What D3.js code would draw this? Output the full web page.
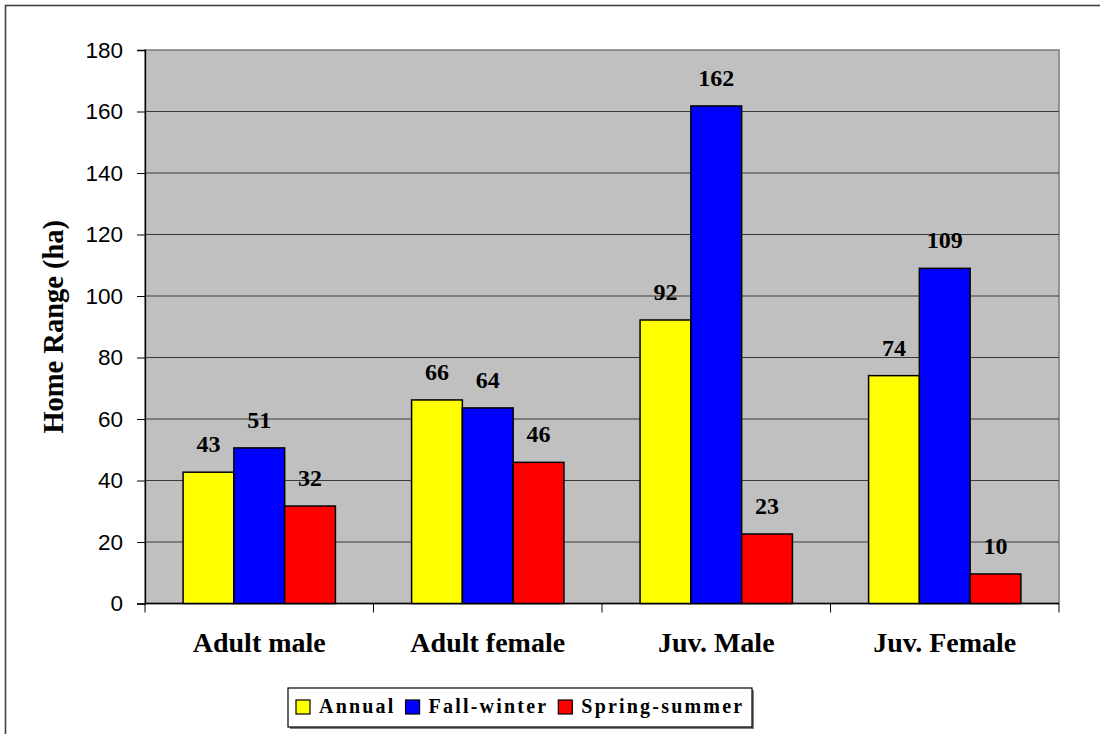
<!DOCTYPE html>
<html>
<head>
<meta charset="utf-8">
<script src="https://cdn.jsdelivr.net/npm/d3@7"></script>
<style>
  body { margin: 0; background: #fff; }
  svg { display: block; }
</style>
</head>
<body>
<div class="canvas"></div>
<script>
const categories = ["Adult male", "Adult female", "Juv. Male", "Juv. Female"];
const seriesNames = ["Annual", "Fall-winter", "Spring-summer"];
const annual = [42.7, 66.2, 92.2, 74.1];
const fallWinter = [50.6, 63.6, 161.8, 109.0];
const springSummer = [31.7, 45.9, 22.6, 9.6];
const yTicks = [0, 20, 40, 60, 80, 100, 120, 140, 160, 180];

const seriesValues = [annual, fallWinter, springSummer];
const colours = ["#ffff00", "#0000ff", "#ff0000"];

const dims = { width: 1100, height: 734 };
const plot = { left: 145, right: 1059, top: 50, bottom: 603.5 };
const serif = "'Liberation Serif', 'Times New Roman', serif";

const svg = d3
  .select(".canvas")
  .append("svg")
  .attr("width", dims.width)
  .attr("height", dims.height);

// outer chart border (runs off the right/bottom edge like the source)
svg.append("rect")
  .attr("x", 5.5).attr("y", 5.5)
  .attr("width", 1300).attr("height", 1000)
  .attr("fill", "#fff")
  .attr("stroke", "#404040")
  .attr("stroke-width", 1.6);

// scales
const x0 = d3.scaleBand()
  .domain(categories)
  .range([plot.left, plot.right])
  .paddingInner(1 / 3)
  .paddingOuter(1 / 6);

const x1 = d3.scaleBand()
  .domain(seriesNames)
  .range([0, x0.bandwidth()]);

const y = d3.scaleLinear()
  .domain([0, 180])
  .range([plot.bottom, plot.top]);

const colour = d3.scaleOrdinal().domain(seriesNames).range(colours);

// plot area
svg.append("rect")
  .attr("x", plot.left).attr("y", plot.top)
  .attr("width", plot.right - plot.left)
  .attr("height", plot.bottom - plot.top)
  .attr("fill", "#c0c0c0")
  .attr("stroke", "#808080")
  .attr("stroke-width", 1.6);

// gridlines
svg.append("g")
  .selectAll("line")
  .data(yTicks.filter((d) => d > 0 && d < 180))
  .enter()
  .append("line")
  .attr("x1", plot.left).attr("x2", plot.right)
  .attr("y1", (d) => y(d)).attr("y2", (d) => y(d))
  .attr("stroke", "#3a3a3a")
  .attr("stroke-width", 1);

// y axis
const yAxis = d3.axisLeft(y).tickValues(yTicks).tickSize(8).tickPadding(14);
const yAxisG = svg.append("g")
  .attr("transform", `translate(${plot.left},0)`)
  .call(yAxis);
yAxisG.select(".domain").attr("stroke", "#000").attr("stroke-width", 1.3);
yAxisG.selectAll(".tick line").attr("stroke", "#000");
yAxisG.selectAll(".tick text")
  .attr("font-family", "'Liberation Sans', Arial, sans-serif")
  .attr("font-size", 22.5)
  .attr("fill", "#000");

// x axis: ticks between categories
const xAxisG = svg.append("g").attr("transform", `translate(0,${plot.bottom})`);
xAxisG.append("line")
  .attr("x1", plot.left).attr("x2", plot.right)
  .attr("stroke", "#000").attr("stroke-width", 1.3);
const bounds = categories.map((c) => x0(c) - x0.step() * x0.paddingOuter());
bounds.push(plot.right);
xAxisG.selectAll(".sep")
  .data(bounds)
  .enter()
  .append("line")
  .attr("class", "sep")
  .attr("x1", (d) => d).attr("x2", (d) => d)
  .attr("y1", 0).attr("y2", 9)
  .attr("stroke", "#000");

xAxisG.selectAll(".cat")
  .data(categories)
  .enter()
  .append("text")
  .attr("class", "cat")
  .attr("x", (d) => x0(d) + x0.bandwidth() / 2)
  .attr("y", 48)
  .attr("text-anchor", "middle")
  .attr("font-family", serif)
  .attr("font-weight", "bold")
  .attr("font-size", 28)
  .text((d) => d);

// y axis title
svg.append("text")
  .attr("transform", `translate(63,${(plot.top + plot.bottom) / 2}) rotate(-90)`)
  .attr("text-anchor", "middle")
  .attr("font-family", serif)
  .attr("font-weight", "bold")
  .attr("font-size", 28.5)
  .text("Home Range (ha)");

// bars
const rows = categories.flatMap((cat, i) =>
  seriesNames.map((s, j) => ({ cat, series: s, value: seriesValues[j][i] }))
);

const groups = svg.append("g");
groups.selectAll("rect")
  .data(rows)
  .enter()
  .append("rect")
  .attr("x", (d) => x0(d.cat) + x1(d.series))
  .attr("y", (d) => y(d.value))
  .attr("width", x1.bandwidth())
  .attr("height", (d) => y(0) - y(d.value))
  .attr("fill", (d) => colour(d.series))
  .attr("stroke", "#000")
  .attr("stroke-width", 1.5);

// value labels
groups.selectAll("text")
  .data(rows)
  .enter()
  .append("text")
  .attr("x", (d) => x0(d.cat) + x1(d.series) + x1.bandwidth() / 2)
  .attr("y", (d) => y(d.value) - 20)
  .attr("text-anchor", "middle")
  .attr("font-family", serif)
  .attr("font-weight", "bold")
  .attr("font-size", 24)
  .text((d) => d3.format(".0f")(d.value));

// legend
const legendBox = { x: 288, y: 688, w: 464, h: 39 };
const legendGroup = svg.append("g");
legendGroup.append("rect")
  .attr("x", legendBox.x + 2).attr("y", legendBox.y + 2)
  .attr("width", legendBox.w).attr("height", legendBox.h)
  .attr("fill", "#808080");
legendGroup.append("rect")
  .attr("x", legendBox.x).attr("y", legendBox.y)
  .attr("width", legendBox.w).attr("height", legendBox.h)
  .attr("fill", "#fff")
  .attr("stroke", "#000")
  .attr("stroke-width", 1.2);

let lx = legendBox.x + 8;
seriesNames.forEach((s) => {
  const item = legendGroup.append("g");
  item.append("rect")
    .attr("x", lx).attr("y", legendBox.y + 12)
    .attr("width", 14).attr("height", 14)
    .attr("fill", colour(s))
    .attr("stroke", "#000")
    .attr("stroke-width", 1.2);
  const t = item.append("text")
    .attr("x", lx + 23)
    .attr("y", legendBox.y + 25)
    .attr("font-family", serif)
    .attr("font-weight", "bold")
    .attr("font-size", 20)
    .attr("letter-spacing", 2.2)
    .text(s);
  lx += 23 + t.node().getComputedTextLength() + 10;
});
</script>
</body>
</html>
